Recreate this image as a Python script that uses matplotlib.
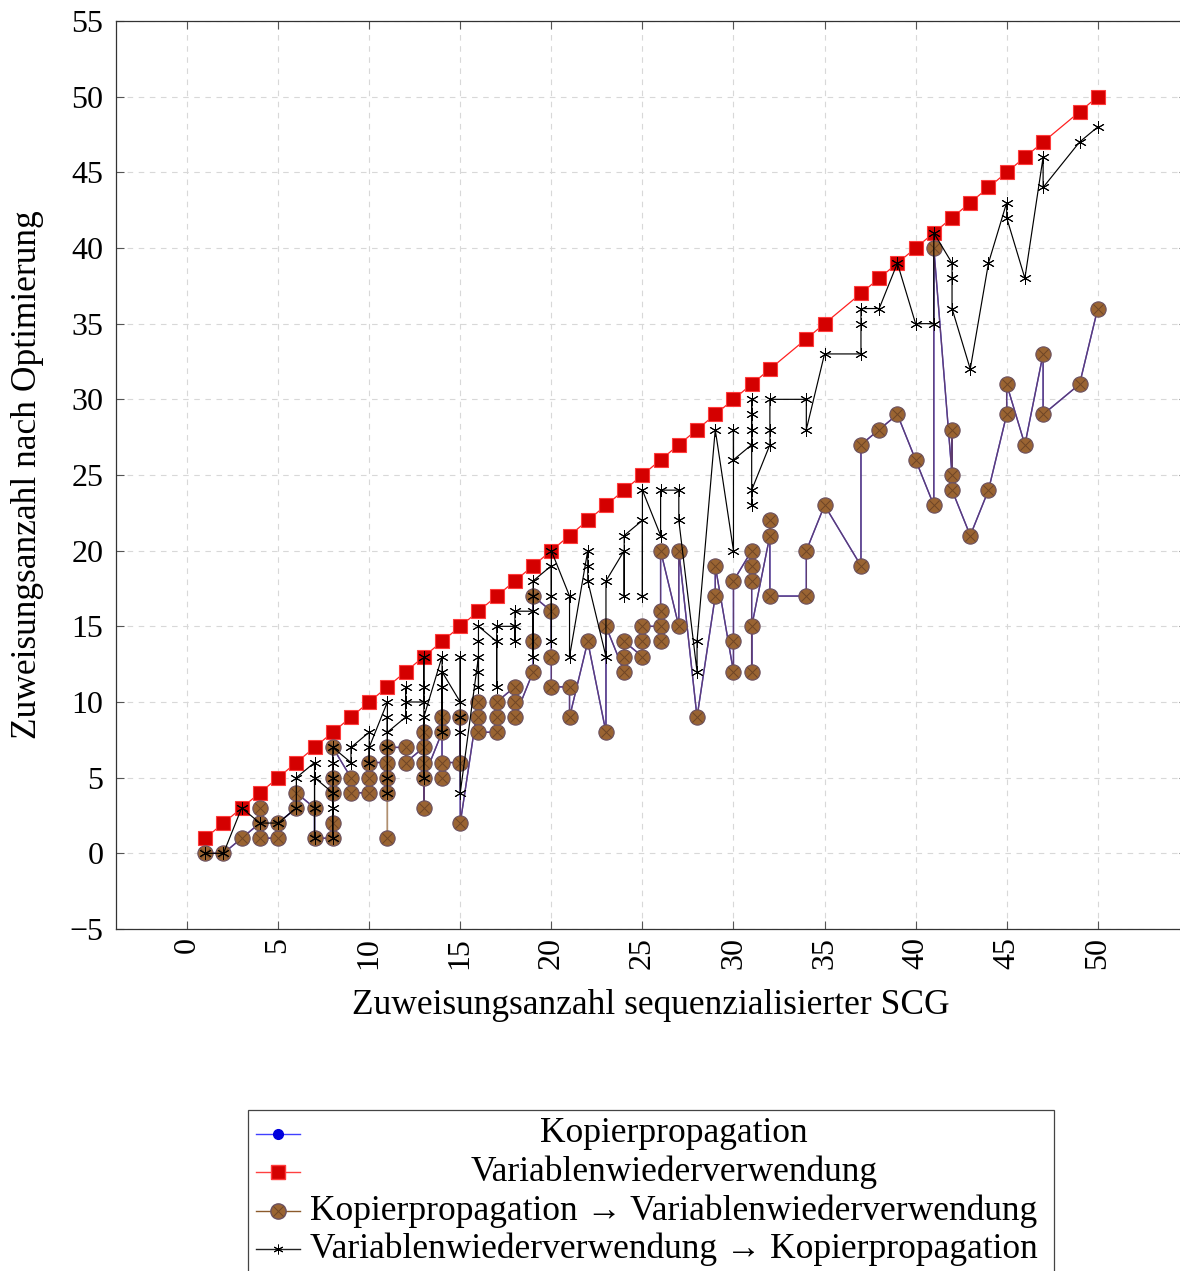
import matplotlib
matplotlib.use('Agg')
import matplotlib.pyplot as plt
from matplotlib.lines import Line2D
from matplotlib.patches import Rectangle

plt.rcParams['font.family'] = ['Liberation Serif', 'DejaVu Serif']

# ---------------- data ----------------
# Variablenwiederverwendung (red): one value per SCG size
vw_x = [1, 2, 3, 4, 5, 6, 7, 8, 9, 10, 11, 12, 13, 14, 15, 16, 17, 18, 19, 20,
        21, 22, 23, 24, 25, 26, 27, 28, 29, 30, 31, 32, 34, 35, 37, 38, 39, 40,
        41, 42, 43, 44, 45, 46, 47, 49, 50]
vw_y = [1, 2, 3, 4, 5, 6, 7, 8, 9, 10, 11, 12, 13, 14, 15, 16, 17, 18, 19, 20,
        21, 22, 23, 24, 25, 26, 27, 28, 29, 30, 31, 32, 34, 35, 37, 38, 39, 40,
        41, 42, 43, 44, 45, 46, 47, 49, 50]

# Kopierpropagation -> Variablenwiederverwendung (brown), values per SCG size
kpvw_groups = [
    (1, [0]), (2, [0]), (3, [1]), (4, [2, 3, 1]), (5, [1, 2]), (6, [3, 4]),
    (7, [3, 1]), (8, [1, 2, 4, 5, 7]), (9, [5, 4]), (10, [4, 5, 6]),
    (11, [6, 5, 4, 1, 7]), (12, [7, 6]), (13, [7, 8, 6, 3, 5]),
    (14, [8, 9, 5, 6]), (15, [6, 9, 2]), (16, [10, 9, 8]), (17, [8, 9, 10]),
    (18, [11, 10, 9]), (19, [12, 14, 17]), (20, [16, 13, 11]), (21, [11, 9]),
    (22, [14]), (23, [8, 15]), (24, [12, 13, 14]), (25, [13, 14, 15]),
    (26, [15, 14, 16, 20]), (27, [15, 20]), (28, [9]), (29, [17, 19]),
    (30, [12, 14, 18]), (31, [20, 19, 18, 12, 15]), (32, [21, 22, 17]),
    (34, [17, 20]), (35, [23]), (37, [19, 27]), (38, [28]), (39, [29]),
    (40, [26]), (41, [23, 40]), (42, [25, 28, 24]), (43, [21]), (44, [24]),
    (45, [29, 31]), (46, [27]), (47, [33, 29]), (49, [31]), (50, [36]),
]

# Kopierpropagation (blue), almost entirely hidden below the brown series
kp_groups = [
    (1, [0]), (2, [0]), (3, [1]), (4, [2, 3, 1]), (5, [1, 2]), (6, [3, 4]),
    (7, [3, 1]), (8, [1, 2, 4, 5, 7]), (9, [5, 4]), (10, [4, 5, 6]),
    (11, [6, 5, 4, 7]), (12, [7, 6]), (13, [7, 8, 6, 3, 5]),
    (14, [8, 9, 5, 6]), (15, [6, 9, 2]), (16, [10, 9, 8]), (17, [8, 9, 10]),
    (18, [11, 10, 9]), (19, [12, 14, 17]), (20, [16, 13, 11]), (21, [11, 9]),
    (22, [14]), (23, [8, 15]), (24, [12, 13, 14]), (25, [13, 14, 15]),
    (26, [15, 14, 16, 20]), (27, [15, 20]), (28, [9]), (29, [17, 19]),
    (30, [12, 14, 18]), (31, [20, 19, 18, 12, 15]), (32, [21, 22, 17]),
    (34, [17, 20]), (35, [23]), (37, [19, 27]), (38, [28]), (39, [29]),
    (40, [26]), (41, [23, 40]), (42, [25, 28, 24]), (43, [21]), (44, [24]),
    (45, [29, 31]), (46, [27]), (47, [33, 29]), (49, [31]), (50, [36]),
]

# Variablenwiederverwendung -> Kopierpropagation (black stars)
vwkp_groups = [
    (1, [0]), (2, [0]), (3, [3]), (4, [2]), (5, [2]), (6, [3, 5]),
    (7, [6, 3, 1, 5]), (8, [4, 1, 3, 5, 6, 7]), (9, [6, 7]), (10, [8, 6, 7]),
    (11, [10, 7, 5, 4, 9, 8]), (12, [9, 11, 10]), (13, [10, 11, 13, 5, 9]),
    (14, [13, 8, 11, 12]), (15, [10, 13, 9, 8, 4]), (16, [13, 11, 12, 14, 15]),
    (17, [14, 11, 15]), (18, [15, 14, 16]), (19, [16, 13, 17, 18]),
    (20, [19, 14, 17, 20]), (21, [17, 13]), (22, [20, 19, 18]), (23, [13, 18]),
    (24, [20, 17, 21]), (25, [22, 17, 24]), (26, [21, 24]), (27, [24, 22]),
    (28, [12, 14]), (29, [28]), (30, [20, 28, 26]),
    (31, [27, 30, 29, 28, 23, 24]), (32, [27, 28, 30]), (34, [30, 28]),
    (35, [33]), (37, [33, 35, 36]), (38, [36]), (39, [39]), (40, [35]),
    (41, [35, 41]), (42, [39, 38, 36]), (43, [32]), (44, [39]), (45, [43, 42]),
    (46, [38]), (47, [46, 44]), (49, [47]), (50, [48]),
]

x_ticks = list(range(0, 51, 5))
y_ticks = list(range(-5, 56, 5))

legend_labels = [
    "Kopierpropagation",
    "Variablenwiederverwendung",
    "Kopierpropagation \u2192 Variablenwiederverwendung",
    "Variablenwiederverwendung \u2192 Kopierpropagation",
]


def flatten(groups):
    xs, ys = [], []
    for gx, gys in groups:
        for gy in gys:
            xs.append(gx)
            ys.append(gy)
    return xs, ys


kp_x, kp_y = flatten(kp_groups)
kpvw_x, kpvw_y = flatten(kpvw_groups)
vwkp_x, vwkp_y = flatten(vwkp_groups)

# ---------------- figure ----------------
W, H = 1180, 1271
fig = plt.figure(figsize=(W / 100, H / 100), dpi=100)
ax_l, ax_r, ax_t, ax_b = 116, 1187, 21, 929
ax = fig.add_axes([ax_l / W, 1 - ax_b / H, (ax_r - ax_l) / W, (ax_b - ax_t) / H])

red_line = '#ff2020'
red_fill = '#d40000'
brown = '#9a6432'
brown_line = '#8b5a2b'
blue = '#0000ff'

ax.plot(vw_x, vw_y, color=red_line, lw=0.9, marker='s', ms=10,
        mfc=red_fill, mec='#ff3b3b', mew=0.8, zorder=3)
ax.plot(kp_x, kp_y, color=blue, lw=1.0, marker='o', ms=5,
        mfc=blue, mec=blue, zorder=4)
ax.plot(kpvw_x, kpvw_y, color=brown_line, lw=1.0, alpha=0.68, zorder=5)
ax.plot(kpvw_x, kpvw_y, ls='none', marker='o', ms=11, mfc=brown,
        mec='#6a5060', mew=0.8, zorder=6)
ax.plot(kpvw_x, kpvw_y, ls='none', marker='x', ms=6.5, mec='#6e4526',
        mew=0.7, zorder=6)
ax.plot(vwkp_x, vwkp_y, color='black', lw=0.85, marker=(6, 2, 0), ms=9,
        mew=0.7, zorder=7)

ax.set_xlim(-3.9, 54.9)
ax.set_ylim(-5, 55)
ax.set_xticks(x_ticks)
ax.set_yticks(y_ticks)
ax.set_xticklabels([str(v) for v in x_ticks], rotation=90)
ax.set_yticklabels([("\u2212" + str(-v)) if v < 0 else str(v) for v in y_ticks])
ax.tick_params(axis='both', direction='in', length=6, width=0.8,
               color='#555555', labelsize=23, top=True, right=True)
ax.tick_params(axis='x', pad=6)
ax.tick_params(axis='y', pad=9)
ax.grid(True, linestyle=(0, (5, 5)), color='#d8d8d8', lw=0.8, zorder=0)
ax.set_axisbelow(True)
for sp in ax.spines.values():
    sp.set_color('#333333')
    sp.set_linewidth(0.9)

fig.text(651 / W, 1 - 1006 / H, "Zuweisungsanzahl sequenzialisierter SCG",
         ha='center', va='center', fontsize=25.5)
fig.text(28 / W, 1 - 475 / H, "Zuweisungsanzahl nach Optimierung",
         ha='center', va='center', rotation=90, fontsize=25.5)

# ---------------- legend (drawn manually, centred entries) ----------------
lx0, lx1, ly0 = 248, 1054, 1110
fig.patches.append(Rectangle((lx0 / W, 1 - 1300 / H), (lx1 - lx0) / W,
                             (1300 - ly0) / H, transform=fig.transFigure,
                             fill=True, facecolor='white', edgecolor='#444444',
                             lw=0.9, zorder=10))
rows = [1134, 1172, 1211, 1249]
styles = [
    dict(color='#4040ff', marker='o', ms=7, mfc='#0000dd', mec='#0000dd'),
    dict(color='#ff4040', marker='s', ms=10, mfc=red_fill, mec='#ff3b3b'),
    dict(color=brown_line, marker='o', ms=11, mfc=brown, mec='#6a5060'),
    dict(color='#222222', marker=(6, 2, 0), ms=7, mec='black', mew=0.7),
]
for ry, st, lab in zip(rows, styles, legend_labels):
    yy = 1 - ry / H
    fig.add_artist(Line2D([256 / W, 300 / W], [yy, yy], transform=fig.transFigure,
                          lw=1.0, zorder=11, color=st['color']))
    mk = dict(st)
    mk.pop('color')
    fig.add_artist(Line2D([278 / W], [yy], transform=fig.transFigure, ls='none',
                          zorder=12, **mk))
    if lab.startswith("Kopierpropagation \u2192"):
        fig.add_artist(Line2D([278 / W], [yy], transform=fig.transFigure, ls='none',
                              marker='x', ms=6.5, mec='#6e4526', mew=0.7, zorder=13))
    fig.text(674 / W, yy, lab, ha='center', va='center', fontsize=25.5, zorder=12)

fig.savefig('out.png', dpi=100)
